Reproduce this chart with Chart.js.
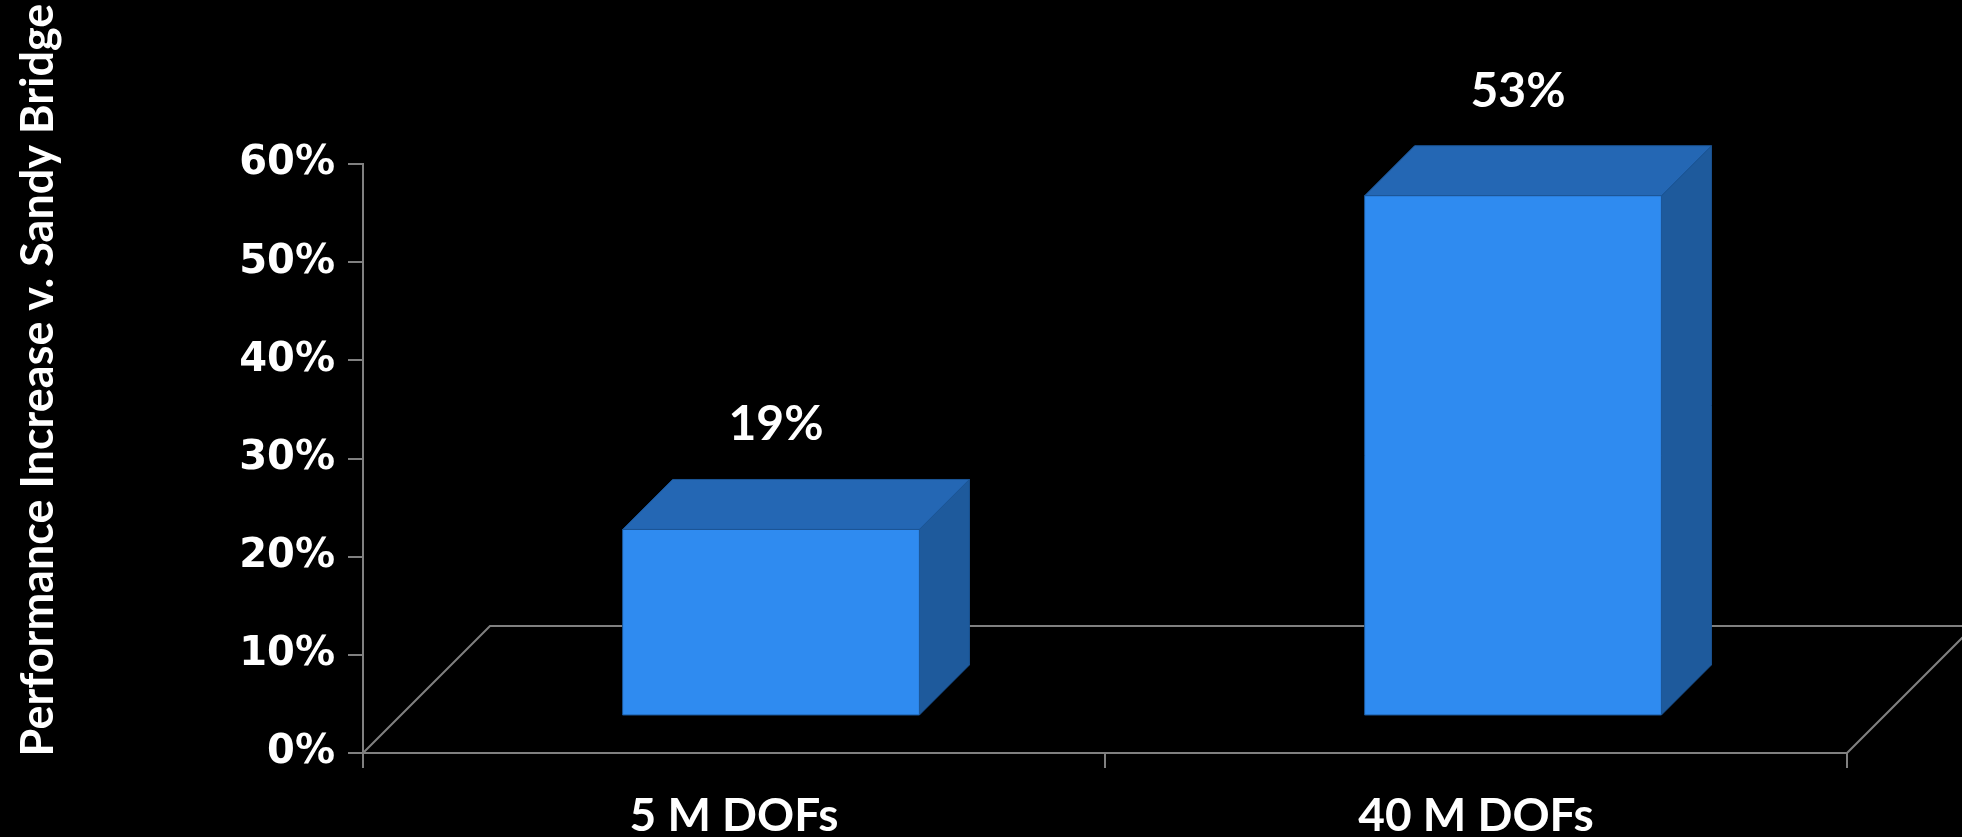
<!DOCTYPE html>
<html>
<head>
<meta charset="utf-8">
<title>Performance Increase v. Sandy Bridge</title>
<script src="https://cdn.jsdelivr.net/npm/chart.js@4.4.1/dist/chart.umd.min.js"></script>
<style>
  html, body { margin: 0; padding: 0; background: #000; overflow: hidden; }
  #wrap { width: 1962px; height: 837px; position: relative; }
</style>
</head>
<body>
<div id="wrap"><canvas id="chart1"></canvas></div>
<script>
// data
var categories = ['5 M DOFs', '40 M DOFs'];
var increase = [19, 53];
var yTicks = [0, 10, 20, 30, 40, 50, 60];
var yTitle = 'Performance Increase v. Sandy Bridge';

// look of the 3d boxes and floor
var axisGray = '#808080';
var frontColor = '#2f8bf0';
var topColor = '#2467b4';
var sideColor = '#1e5a9c';
var edgeColor = '#1b5596';
var floorDepth = 127;   // depth of the floor plane (45 deg)
var frontInset = 37;    // how far back the front faces sit
var barDepth = 50;      // depth of each box

function poly(ctx, pts, fill) {
  ctx.beginPath();
  ctx.moveTo(pts[0][0], pts[0][1]);
  for (var i = 1; i < pts.length; i++) ctx.lineTo(pts[i][0], pts[i][1]);
  ctx.closePath();
  ctx.fillStyle = fill;
  ctx.fill();
  ctx.stroke();
}

var box3d = {
  id: 'box3d',
  beforeDatasetsDraw: function (chart) {
    var ctx = chart.ctx, a = chart.chartArea;
    var y0 = chart.scales.y.getPixelForValue(yTicks[0]);
    ctx.save();
    ctx.strokeStyle = axisGray;
    ctx.lineWidth = 2;
    ctx.beginPath();
    ctx.moveTo(a.left, y0);
    ctx.lineTo(a.left + floorDepth, y0 - floorDepth);
    ctx.lineTo(a.right + floorDepth, y0 - floorDepth);
    ctx.lineTo(a.right, y0);
    ctx.stroke();
    ctx.restore();
  },
  afterDatasetsDraw: function (chart) {
    var ctx = chart.ctx;
    var meta = chart.getDatasetMeta(0);
    var values = chart.data.datasets[0].data;
    ctx.save();
    ctx.lineWidth = 1;
    ctx.strokeStyle = edgeColor;
    ctx.lineJoin = 'round';
    meta.data.forEach(function (bar, i) {
      var p = bar.getProps(['x', 'y', 'base', 'width'], true);
      var l = p.x - p.width / 2 + frontInset;
      var r = p.x + p.width / 2 + frontInset;
      var t = p.y - frontInset;
      var b = p.base - frontInset;
      var d = barDepth;
      poly(ctx, [[r, t], [r + d, t - d], [r + d, b - d], [r, b]], sideColor);
      poly(ctx, [[l, t], [l + d, t - d], [r + d, t - d], [r, t]], topColor);
      poly(ctx, [[l, t], [r, t], [r, b], [l, b]], frontColor);

      ctx.fillStyle = '#ffffff';
      ctx.font = 'bold 48px Lato, "Open Sans", sans-serif';
      ctx.textAlign = 'center';
      ctx.textBaseline = 'alphabetic';
      ctx.fillText(values[i] + '%', (l + r) / 2 + 5, t - 89);
    });
    ctx.restore();
  },
  afterDraw: function (chart) {
    var ctx = chart.ctx;
    ctx.save();
    ctx.translate(38, 380);
    ctx.rotate(-Math.PI / 2);
    ctx.fillStyle = '#ffffff';
    ctx.font = 'bold 45px Lato, "Open Sans", sans-serif';
    ctx.textAlign = 'center';
    ctx.textBaseline = 'middle';
    ctx.fillText(yTitle, 0, 0);
    ctx.restore();
  }
};

var ctx = document.getElementById('chart1').getContext('2d');
var myChart = new Chart(ctx, {
  type: 'bar',
  data: {
    labels: categories,
    datasets: [{
      data: increase,
      backgroundColor: 'rgba(0,0,0,0)',
      borderWidth: 0,
      barPercentage: 0.4,
      categoryPercentage: 1
    }]
  },
  options: {
    responsive: true,
    maintainAspectRatio: false,
    animation: false,
    layout: {
      padding: { top: 164, right: 115, bottom: 0, left: 0 }
    },
    plugins: {
      legend: { display: false },
      tooltip: { enabled: false }
    },
    scales: {
      x: {
        grid: {
          offset: true,
          drawOnChartArea: false,
          drawTicks: true,
          tickLength: 15,
          color: axisGray,
          lineWidth: 2
        },
        border: { color: axisGray, width: 2 },
        ticks: {
          color: '#ffffff',
          padding: 21,
          font: { family: 'Lato, "Open Sans", sans-serif', size: 46, weight: 'bold' }
        },
        afterFit: function (scale) { scale.height = 84; }
      },
      y: {
        min: yTicks[0],
        max: yTicks[yTicks.length - 1],
        grid: {
          drawOnChartArea: false,
          drawTicks: true,
          tickLength: 15,
          color: axisGray,
          lineWidth: 2
        },
        border: { color: axisGray, width: 2 },
        ticks: {
          color: '#ffffff',
          padding: 13,
          font: { family: '"DejaVu Sans", Verdana, sans-serif', size: 40, weight: 'bold' },
          callback: function (v) { return v + '%'; }
        },
        afterBuildTicks: function (axis) {
          axis.ticks = yTicks.map(function (v) { return { value: v }; });
        },
        afterFit: function (scale) { scale.width = 363; }
      }
    }
  },
  plugins: [box3d]
});
</script>
</body>
</html>
